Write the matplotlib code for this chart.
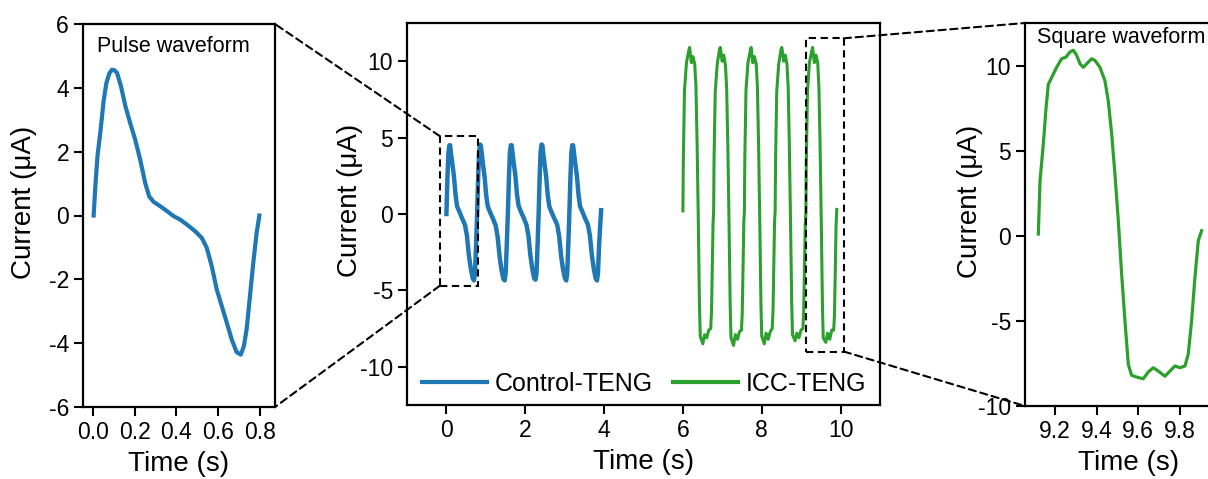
import matplotlib
matplotlib.use('Agg')
import matplotlib.pyplot as plt
from matplotlib.patches import Rectangle, ConnectionPatch
from matplotlib.ticker import FormatStrFormatter

plt.rcParams['font.family'] = ['Liberation Sans', 'DejaVu Sans']
plt.rcParams['axes.unicode_minus'] = False

BLUE = '#1f77b4'
GREEN = '#2ca02c'

# ── data: single pulse (left zoom) ──
pulse_t = [0.003, 0.012, 0.022, 0.035, 0.051, 0.064, 0.078, 0.091, 0.103, 0.115, 0.134,
           0.155, 0.178, 0.202, 0.226, 0.250, 0.269, 0.290, 0.322, 0.354, 0.386, 0.418,
           0.449, 0.489, 0.521, 0.545, 0.569, 0.593, 0.617, 0.641, 0.665, 0.688, 0.708,
           0.723, 0.736, 0.752, 0.768, 0.784, 0.797]
pulse_i = [0.0, 1.0, 1.9, 2.6, 3.6, 4.15, 4.45, 4.57, 4.55, 4.47, 4.05,
           3.43, 2.9, 2.38, 1.75, 1.02, 0.6, 0.43, 0.29, 0.14, -0.02, -0.13,
           -0.28, -0.49, -0.70, -1.01, -1.59, -2.32, -2.84, -3.36, -3.89, -4.28, -4.36,
           -4.09, -3.57, -2.53, -1.48, -0.54, 0.0]

# ── data: Control-TENG (middle, blue) ──
ctrl_t = [0.000, 0.025, 0.050, 0.075, 0.095, 0.115, 0.150, 0.190, 0.230, 0.270, 0.330, 0.400, 0.470, 0.520, 0.570, 0.620, 0.665, 0.700, 0.725, 0.750,
          0.780, 0.805, 0.830, 0.855, 0.875, 0.895, 0.930, 0.970, 1.010, 1.050, 1.110, 1.180, 1.250, 1.300, 1.350, 1.400, 1.445, 1.480, 1.505, 1.530,
          1.560, 1.585, 1.610, 1.635, 1.655, 1.675, 1.710, 1.750, 1.790, 1.830, 1.890, 1.960, 2.030, 2.080, 2.130, 2.180, 2.225, 2.260, 2.285, 2.310,
          2.340, 2.365, 2.390, 2.415, 2.435, 2.455, 2.490, 2.530, 2.570, 2.610, 2.670, 2.740, 2.810, 2.860, 2.910, 2.960, 3.005, 3.040, 3.065, 3.090,
          3.120, 3.145, 3.170, 3.195, 3.215, 3.235, 3.270, 3.310, 3.350, 3.390, 3.450, 3.520, 3.590, 3.640, 3.690, 3.740, 3.785, 3.820, 3.845, 3.870,
          3.900, 3.925]
ctrl_i = [0.0, 2.3, 4.0, 4.5, 4.5, 4.0, 3.3, 2.5, 1.3, 0.5, 0.15, -0.3, -0.7, -1.4, -2.7, -3.6, -4.2, -4.35, -3.9, -2.2,
          0.1, 2.4, 4.1, 4.55, 4.45, 4.0, 3.2, 2.4, 1.2, 0.5, 0.1, -0.3, -0.75, -1.5, -2.8, -3.7, -4.25, -4.35, -3.8, -2.1,
          0.1, 2.3, 4.0, 4.5, 4.5, 4.05, 3.3, 2.5, 1.3, 0.55, 0.15, -0.25, -0.7, -1.4, -2.7, -3.6, -4.2, -4.3, -3.9, -2.2,
          0.05, 2.4, 4.1, 4.55, 4.5, 4.0, 3.25, 2.45, 1.25, 0.5, 0.1, -0.3, -0.7, -1.45, -2.75, -3.65, -4.2, -4.35, -3.85, -2.15,
          0.1, 2.3, 4.0, 4.5, 4.5, 4.0, 3.3, 2.5, 1.3, 0.5, 0.15, -0.3, -0.7, -1.4, -2.7, -3.6, -4.2, -4.35, -3.9, -2.2,
          -0.8, 0.25]

# ── data: ICC-TENG (middle, green) ──
icc_t = [6.000, 6.010, 6.040, 6.090, 6.150, 6.170, 6.215, 6.255, 6.300, 6.330, 6.360, 6.390, 6.420, 6.440, 6.505, 6.550, 6.605, 6.655, 6.705, 6.725, 6.745, 6.765,
         6.780, 6.790, 6.820, 6.870, 6.930, 6.950, 6.995, 7.035, 7.080, 7.110, 7.140, 7.170, 7.200, 7.220, 7.285, 7.330, 7.385, 7.435, 7.485, 7.505, 7.525, 7.545,
         7.560, 7.570, 7.600, 7.650, 7.710, 7.730, 7.775, 7.815, 7.860, 7.890, 7.920, 7.950, 7.980, 8.000, 8.065, 8.110, 8.165, 8.215, 8.265, 8.285, 8.305, 8.325,
         8.340, 8.350, 8.380, 8.430, 8.490, 8.510, 8.555, 8.595, 8.640, 8.670, 8.700, 8.730, 8.760, 8.780, 8.845, 8.890, 8.945, 8.995, 9.045, 9.065, 9.085, 9.105,
         9.120, 9.130, 9.160, 9.210, 9.270, 9.290, 9.335, 9.375, 9.420, 9.450, 9.480, 9.510, 9.540, 9.560, 9.625, 9.670, 9.725, 9.775, 9.825, 9.845, 9.865, 9.885, 9.904]
icc_i = [0.2, 3.5, 8.1, 9.9, 10.7, 10.9, 9.9, 10.3, 9.8, 8.4, 4.6, -0.4, -6.0, -8.0, -8.5, -7.9, -8.1, -7.6, -7.5, -6.4, -3.5, -0.6,
         0.3, 3.6, 8.0, 9.8, 10.8, 10.9, 10.0, 10.4, 9.7, 8.2, 4.4, -0.6, -6.1, -8.1, -8.6, -7.9, -8.2, -7.7, -7.6, -6.5, -3.6, -0.5,
         0.2, 3.5, 8.1, 9.9, 10.7, 10.9, 9.9, 10.3, 9.8, 8.3, 4.5, -0.5, -6.0, -8.0, -8.5, -7.8, -8.2, -7.7, -7.5, -6.4, -3.5, -0.5,
         0.2, 3.4, 8.0, 9.8, 10.8, 10.9, 10.0, 10.4, 9.8, 8.3, 4.5, -0.5, -5.9, -7.9, -8.3, -7.8, -8.1, -7.6, -7.5, -6.3, -3.4, -0.6,
         0.1, 3.4, 8.0, 9.9, 10.7, 10.9, 9.9, 10.4, 9.9, 8.3, 4.5, -0.5, -6.0, -8.1, -8.4, -7.8, -8.2, -7.6, -7.6, -6.6, -3.8, -0.8, 0.3]

# ── data: single square cycle (right zoom) ──
square_t = [9.120, 9.128, 9.144, 9.157, 9.168, 9.184, 9.208, 9.232, 9.253, 9.272, 9.288, 9.304,
            9.320, 9.336, 9.352, 9.376, 9.392, 9.416, 9.440, 9.456, 9.472, 9.488, 9.504, 9.520,
            9.536, 9.552, 9.568, 9.592, 9.624, 9.648, 9.672, 9.696, 9.728, 9.752, 9.776, 9.800,
            9.824, 9.840, 9.856, 9.872, 9.888, 9.904]
square_i = [0.1, 3.2, 5.4, 7.5, 8.9, 9.3, 9.9, 10.4, 10.5, 10.8, 10.9, 10.6,
            10.1, 9.9, 10.1, 10.4, 10.3, 9.9, 9.1, 7.9, 6.0, 3.6, 0.9, -2.25,
            -5.0, -7.55, -8.2, -8.3, -8.4, -8.0, -7.75, -7.95, -8.25, -7.95, -7.65, -7.75,
            -7.65, -6.95, -5.0, -2.45, -0.3, 0.3]

W, H = 1208, 479
fig = plt.figure(figsize=(W / 100, H / 100), dpi=100)

def px_axes(left, top, right, bottom):
    """pixel box -> figure axes"""
    return fig.add_axes([left / W, (H - bottom) / H, (right - left) / W, (bottom - top) / H])

def style(ax, ylab_x):
    for s in ax.spines.values():
        s.set_linewidth(1.6)
    ax.tick_params(direction='out', length=6.5, width=1.5, labelsize=16.5, pad=3.5)
    ax.set_xlabel('Time (s)', fontsize=20, labelpad=5)
    ax.set_ylabel('Current (μA)', fontsize=20)
    ax.yaxis.set_label_coords(ylab_x, 0.535)   # label sits a bit above centre in the original

ax_l = px_axes(83, 24, 275, 407)
ax_m = px_axes(407, 23, 880, 405)
ax_r = px_axes(1025, 23, 1232, 406)

# left: pulse
ax_l.plot(pulse_t, pulse_i, color=BLUE, lw=3)
ax_l.set_xlim(-0.048, 0.872)
ax_l.set_ylim(-6, 6)
ax_l.set_xticks([0.0, 0.2, 0.4, 0.6, 0.8])
ax_l.set_yticks([-6, -4, -2, 0, 2, 4, 6])
ax_l.xaxis.set_major_formatter(FormatStrFormatter('%.1f'))
ax_l.text(0.073, 0.94, 'Pulse waveform', transform=ax_l.transAxes, fontsize=15.5,
          ha='left', va='center')
style(ax_l, -0.24)

# middle: both devices
ax_m.plot(ctrl_t, ctrl_i, color=BLUE, lw=3.2, label='Control-TENG')
ax_m.plot(icc_t, icc_i, color=GREEN, lw=2.2, label='ICC-TENG')
ax_m.set_xlim(-1, 11)
ax_m.set_ylim(-12.5, 12.5)
ax_m.set_xticks([0, 2, 4, 6, 8, 10])
ax_m.set_yticks([-10, -5, 0, 5, 10])
style(ax_m, -0.093)
leg = ax_m.legend(loc='lower left', bbox_to_anchor=(-0.015, -0.035), ncol=2, frameon=False,
                  fontsize=18, handlelength=2.6, handletextpad=0.3, columnspacing=0.8)
for ln in leg.get_lines():
    ln.set_linewidth(3)

# right: square
ax_r.plot(square_t, square_i, color=GREEN, lw=2.3)
ax_r.set_xlim(9.056, 10.05)
ax_r.set_ylim(-10, 12.5)
ax_r.set_xticks([9.2, 9.4, 9.6, 9.8])
ax_r.set_yticks([-10, -5, 0, 5, 10])
ax_r.text(0.058, 0.962, 'Square waveform', transform=ax_r.transAxes, fontsize=15.5,
          ha='left', va='center')
style(ax_r, -0.203)

# ── zoom boxes + dashed connectors ──
DASH = dict(color='black', lw=1.5, linestyle=(0, (3.5, 2.2)))
box_l = (-0.17, -4.7, 0.97, 9.8)     # x0, y0, w, h in middle data
box_r = (9.12, -9.0, 0.96, 20.5)
for x0, y0, bw, bh in (box_l, box_r):
    ax_m.add_patch(Rectangle((x0, y0), bw, bh, fill=False, zorder=5, **DASH))

links = [((box_l[0], box_l[1] + box_l[3]), ax_l, (1, 1)),
         ((box_l[0], box_l[1]), ax_l, (1, 0)),
         ((box_r[0] + box_r[2], box_r[1] + box_r[3]), ax_r, (0, 1)),
         ((box_r[0] + box_r[2], box_r[1]), ax_r, (0, 0))]
for xyA, axB, xyB in links:
    con = ConnectionPatch(xyA=xyA, coordsA=ax_m.transData, xyB=xyB, coordsB=axB.transAxes,
                          zorder=10, **DASH)
    fig.add_artist(con)

fig.savefig('out.png', dpi=100, facecolor='white')
